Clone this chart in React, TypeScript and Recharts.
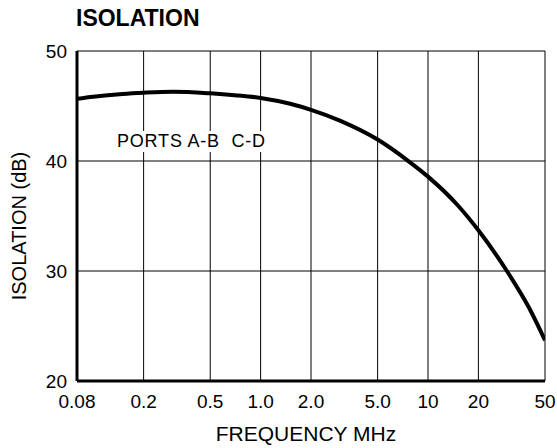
import { LineChart, Line, CartesianGrid, XAxis, YAxis } from "recharts";

const freq = [0.08, 0.1, 0.15, 0.2, 0.3, 0.5, 0.7, 1.0, 1.5, 2.0, 3.0, 5.0, 7.6, 10, 15, 20, 29.6, 40, 50];
const isolation = [45.66, 45.85, 46.1, 46.21, 46.3, 46.15, 45.98, 45.73, 45.2, 44.65, 43.65, 41.95, 40.02, 38.58, 36.0, 33.7, 30.0, 26.7, 23.7];
const xTicks = [0.08, 0.2, 0.5, 1, 2, 5, 10, 20, 50];
const xTickLabels = ["0.08", "0.2", "0.5", "1.0", "2.0", "5.0", "10", "20", "50"];
const yTicks = [20, 30, 40, 50];

const data = freq.map((f, i) => ({ f, db: isolation[i] }));

const font = "'Liberation Sans', Arial, sans-serif";

export default function App() {
  return (
    <div style={{ position: "absolute", left: 0, top: 0, width: 557, height: 448, background: "#fff", fontFamily: font }}>
      <div style={{ position: "absolute", left: 76, top: 5, fontSize: 23, fontWeight: "bold" }}>ISOLATION</div>
      <LineChart width={557} height={448} data={data} margin={{ top: 51, right: 12, bottom: 0, left: 0 }}>
        <CartesianGrid stroke="#000" strokeWidth={1} />
        <XAxis
          dataKey="f"
          type="number"
          scale="log"
          domain={[0.08, 50]}
          ticks={xTicks}
          allowDataOverflow
          height={67}
          tickLine={false}
          tickSize={6}
          tickMargin={8}
          axisLine={{ stroke: "#000", strokeWidth: 3 }}
          tick={{ fill: "#000", fontSize: 19, fontFamily: font }}
          tickFormatter={(v: number) => xTickLabels[xTicks.indexOf(v)] ?? String(v)}
        />
        <YAxis
          type="number"
          domain={[20, 50]}
          ticks={yTicks}
          width={77}
          tickLine={false}
          tickSize={6}
          tickMargin={4}
          axisLine={{ stroke: "#000", strokeWidth: 3 }}
          tick={{ fill: "#000", fontSize: 19, fontFamily: font }}
        />
        <Line type="monotone" dataKey="db" stroke="#000" strokeWidth={4} dot={false} isAnimationActive={false} />
      </LineChart>
      <div style={{ position: "absolute", left: 116, top: 131, fontSize: 18, letterSpacing: 0.8, background: "#fff", padding: "0 1px" }}>
        PORTS A-B&nbsp;&nbsp;C-D
      </div>
      <div style={{ position: "absolute", left: 306, top: 422, transform: "translateX(-50%)", fontSize: 21, whiteSpace: "nowrap" }}>
        FREQUENCY MHz
      </div>
      <div
        style={{
          position: "absolute",
          left: 19,
          top: 226,
          transform: "translate(-50%, -50%) rotate(-90deg)",
          fontSize: 20,
          whiteSpace: "nowrap",
        }}
      >
        ISOLATION (dB)
      </div>
    </div>
  );
}
